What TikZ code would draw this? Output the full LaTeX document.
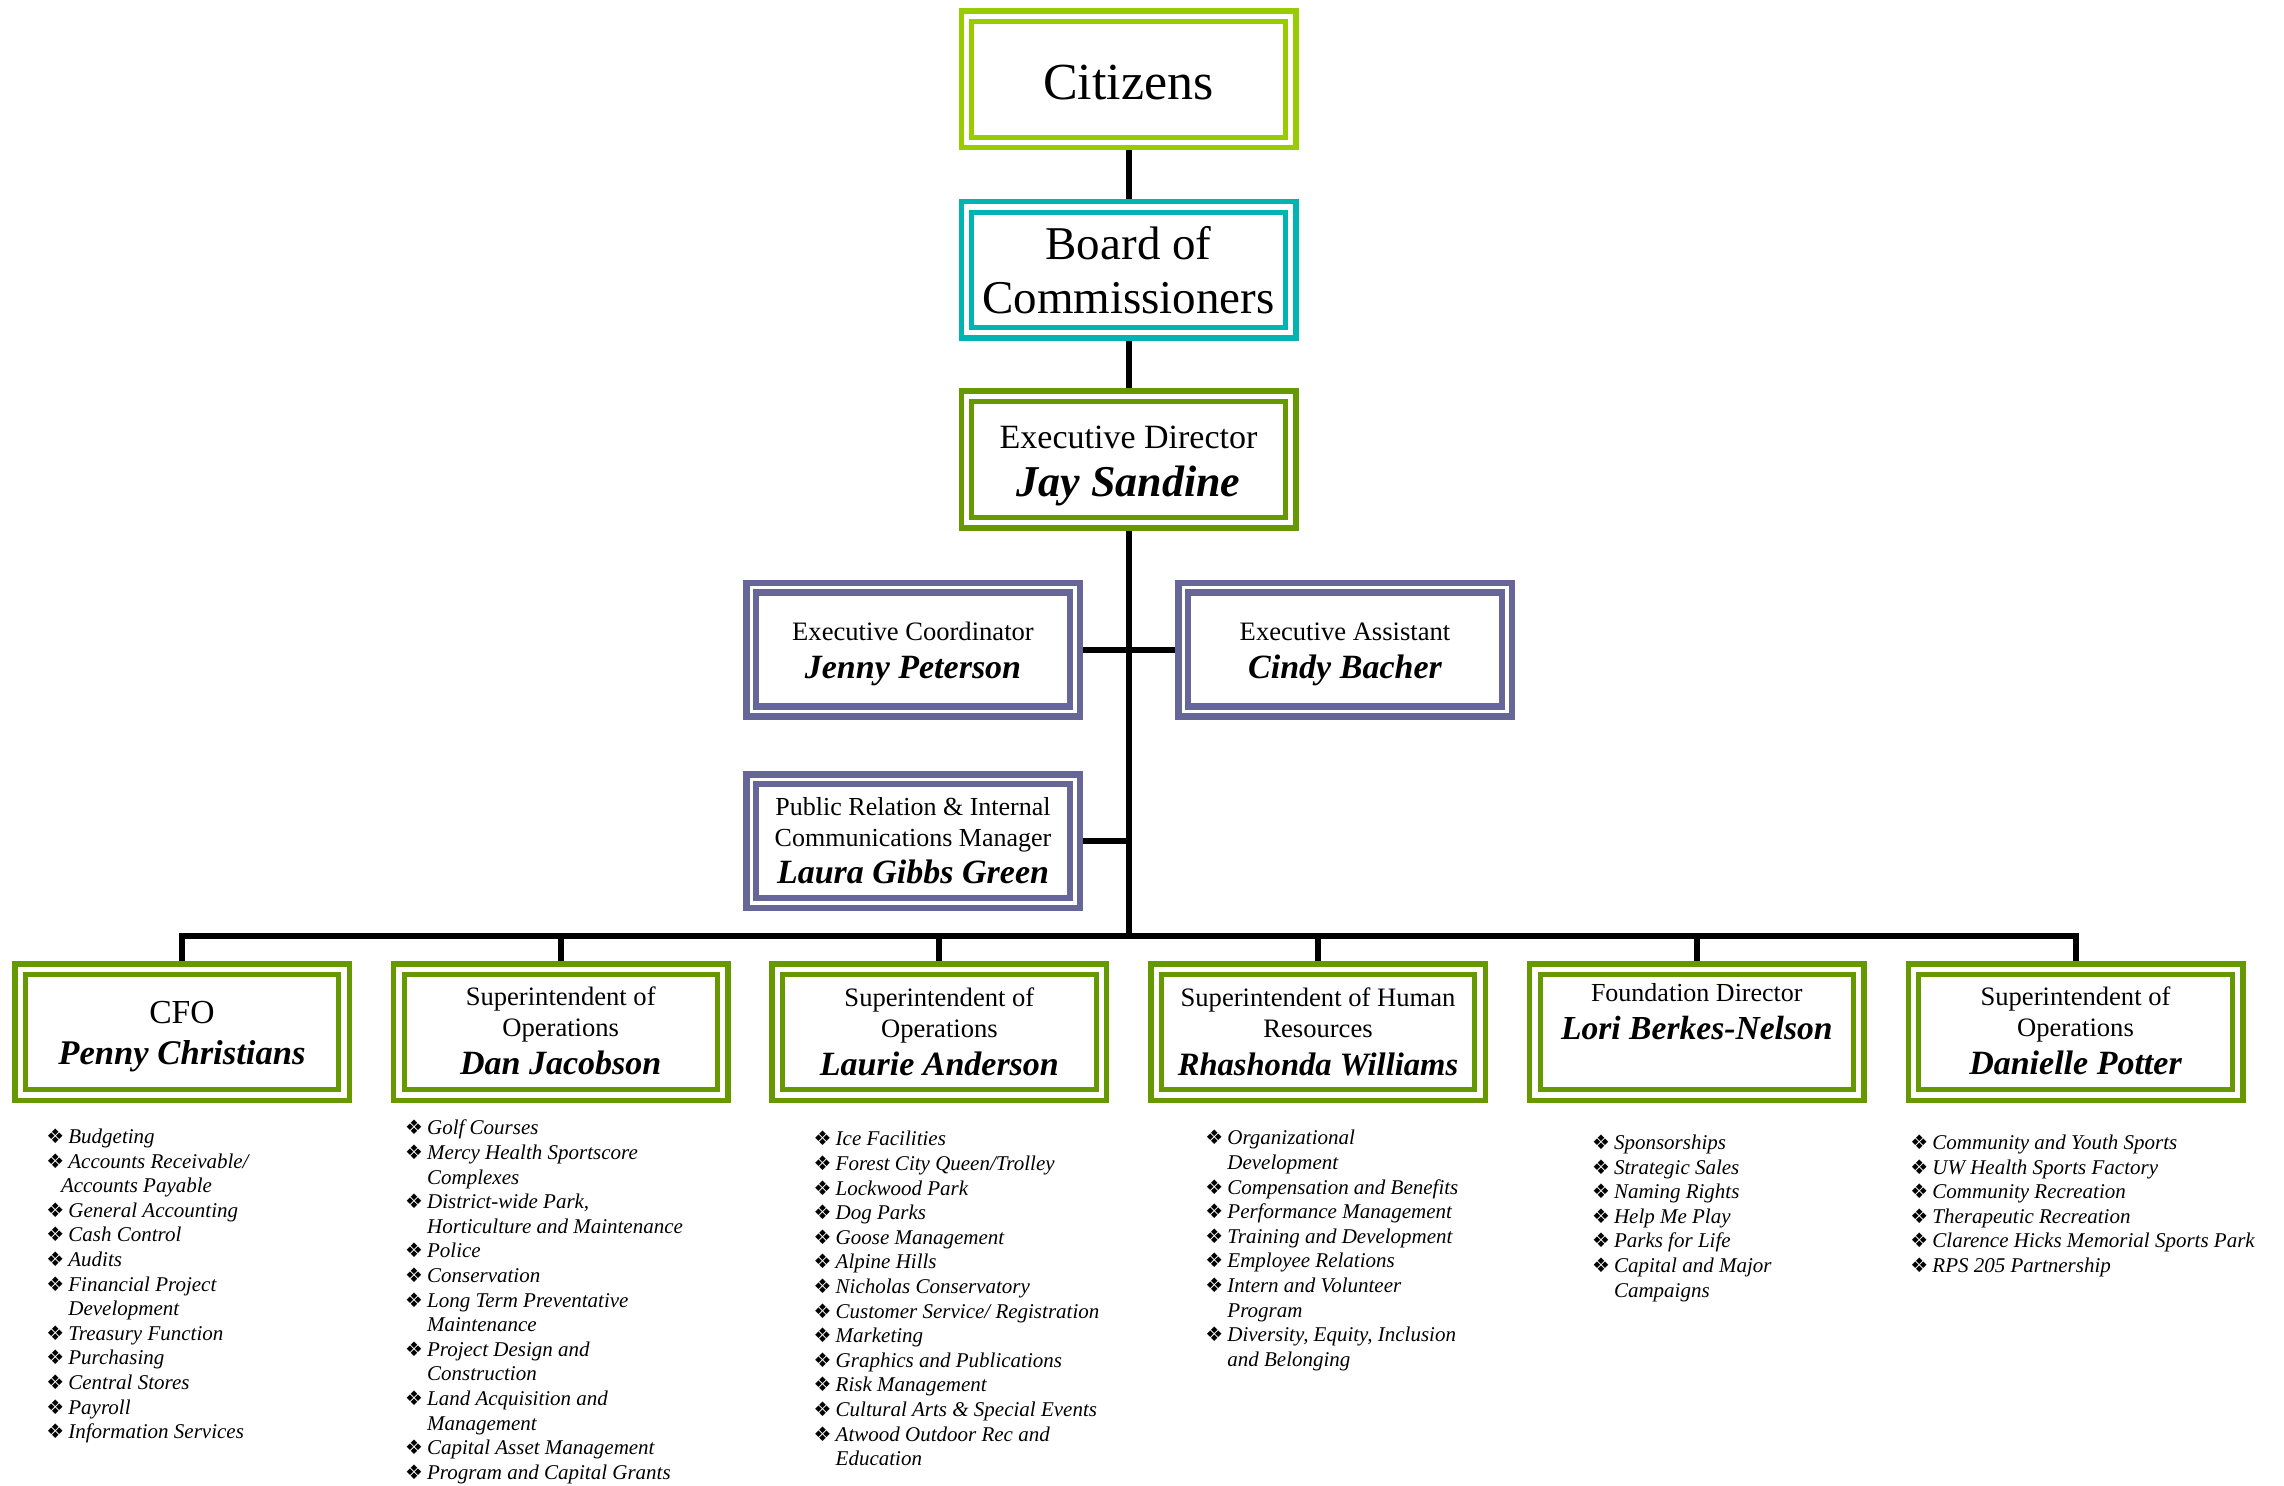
\documentclass[tikz,border=0pt]{standalone}
\usepackage{fontspec}
\setmainfont{Liberation Serif}
\newfontfamily\dvs{DejaVu Sans}
\definecolor{cLime}{RGB}{153,204,0}
\definecolor{cTeal}{RGB}{0,180,180}
\definecolor{cGreen}{RGB}{102,153,0}
\definecolor{cPurple}{RGB}{102,102,153}
\newcommand{\nm}[2][17]{{\fontsize{#1}{#1}\selectfont\bfseries\itshape #2}}
\newcommand{\lsb}{\makebox[11pt][l]{\dvs\fontsize{10}{10}\selectfont ❖}}
\newcommand{\lsi}{\hspace*{11pt}}
\newcommand{\tp}[1]{\rule{0pt}{#1}}
\newcommand{\bt}[1]{\rule[-#1]{0pt}{#1}}
\tikzset{
  dbl/.style n args={4}{draw=#1, line width=#2, inner sep=0pt, align=center,
    path picture={\draw[draw=#1, line width=#4]
      ([shift={(#3,-#3)}]path picture bounding box.north west) rectangle
      ([shift={(-#3,#3)}]path picture bounding box.south east);}},
  gbox/.style={dbl={cGreen}{2.75pt}{5.28pt}{2.5pt}, minimum width=167.25pt, minimum height=68.25pt},
  lbox/.style={dbl={cLime}{2.75pt}{5.28pt}{2.5pt}, minimum width=167.25pt, minimum height=68.25pt},
  tbox/.style={dbl={cTeal}{2.75pt}{5.28pt}{2.5pt}, minimum width=167.25pt, minimum height=68.25pt},
  pbox/.style={dbl={cPurple}{3.25pt}{4.9pt}{3.25pt}, minimum width=166.75pt, minimum height=66.75pt},
  conn/.style={line width=3pt, draw=black, line join=miter},
  lst/.style={anchor=north west, inner sep=0pt, align=left, font=\fontsize{10.5}{12.3}\selectfont\itshape}
}
\begin{document}
\begin{tikzpicture}[x=0.5pt,y=-0.5pt]
\useasboundingbox[fill=white] (0,0) rectangle (2284,1486);
% top chain
\node[lbox, font=\fontsize{26}{30}\selectfont] (cit) at (1128.5,79.5) {\tp{23.5pt}Citizens\bt{3pt}};
\node[tbox, font=\fontsize{23.5}{27}\selectfont] (board) at (1128.5,270) {\tp{22pt}Board of\\Commissioners\bt{5pt}};
\node[gbox, font=\fontsize{17}{24.25}\selectfont] (exec) at (1128.5,459.5) {\tp{18.75pt}Executive Director\\\nm[22]{Jay Sandine}\bt{6pt}};
% staff
\node[pbox, font=\fontsize{13.3}{18.8}\selectfont] (ecoord) at (913,649.5) {\tp{15pt}Executive Coordinator\\\nm{Jenny Peterson}\bt{5pt}};
\node[pbox, font=\fontsize{13.3}{18.8}\selectfont] (easst) at (1345,649.5) {\tp{15pt}Executive Assistant\\\nm{Cindy Bacher}\bt{5pt}};
\node[pbox, font=\fontsize{13}{15.5}\selectfont] (pr) at (913,841) {\tp{13.15pt}Public Relation \& Internal\\Communications Manager\\[3.15pt]\nm{Laura Gibbs Green}\bt{5pt}};
% bottom row
\node[gbox, font=\fontsize{16.8}{20.5}\selectfont] (cfo) at (182,1032) {\tp{17.25pt}CFO\\\nm[17.3]{Penny Christians}\bt{5pt}};
\node[gbox, font=\fontsize{13.3}{15.5}\selectfont] (dan) at (560.7,1032) {\tp{13.35pt}Superintendent of\\Operations\\[3.5pt]\nm{Dan Jacobson}\bt{5pt}};
\node[gbox, font=\fontsize{13.3}{15.5}\selectfont] (laurie) at (939.4,1032) {\tp{14pt}Superintendent of\\Operations\\[3.5pt]\nm{Laurie Anderson}\bt{5pt}};
\node[gbox, font=\fontsize{13.3}{15.5}\selectfont] (rha) at (1318,1032) {\tp{14pt}Superintendent of Human\\Resources\\[3.5pt]\nm[16.3]{Rhashonda Williams}\bt{5pt}};
\node[gbox, font=\fontsize{13}{18.8}\selectfont] (lori) at (1696.8,1032) {\tp{10pt}Foundation Director\\\nm[16.8]{Lori Berkes-Nelson}\bt{21.5pt}};
\node[gbox, font=\fontsize{13.3}{15.5}\selectfont] (dani) at (2075.5,1032) {\tp{12.5pt}Superintendent of\\Operations\\[3.5pt]\nm{Danielle Potter}\bt{5pt}};
% connectors
\coordinate (bus) at (1128.5,936);
\draw[conn] (cit) -- (board);
\draw[conn] (board) -- (exec);
\draw[conn] (exec.south) -- (bus);
\draw[conn] (ecoord) -- (easst);
\draw[conn] (pr.east) -- (pr.east -| bus);
\foreach \b in {cfo,dan,laurie,rha,lori,dani}{\draw[conn] (bus) -| (\b.north);}
% lists
\node[lst] (cfol) at (46,1123) {\rule{0pt}{10pt}\lsb Budgeting\\
\lsb Accounts Receivable/\\
\hspace*{7.3pt}Accounts Payable\\
\lsb General Accounting\\
\lsb Cash Control\\
\lsb Audits\\
\lsb Financial Project\\
\lsi Development\\
\lsb Treasury Function\\
\lsb Purchasing\\
\lsb Central Stores\\
\lsb Payroll\\
\lsb Information Services};
\node[lst] (danl) at (404.7,1114.5) {\rule{0pt}{10pt}\lsb Golf Courses\\
\lsb Mercy Health Sportscore\\
\lsi Complexes\\
\lsb District-wide Park,\\
\lsi Horticulture and Maintenance\\
\lsb Police\\
\lsb Conservation\\
\lsb Long Term Preventative\\
\lsi Maintenance\\
\lsb Project Design and\\
\lsi Construction\\
\lsb Land Acquisition and\\
\lsi Management\\
\lsb Capital Asset Management\\
\lsb Program and Capital Grants};
\node[lst] (lauriel) at (813.3,1125.5) {\rule{0pt}{10pt}\lsb Ice Facilities\\
\lsb Forest City Queen/Trolley\\
\lsb Lockwood Park\\
\lsb Dog Parks\\
\lsb Goose Management\\
\lsb Alpine Hills\\
\lsb Nicholas Conservatory\\
\lsb Customer Service/ Registration\\
\lsb Marketing\\
\lsb Graphics and Publications\\
\lsb Risk Management\\
\lsb Cultural Arts \& Special Events\\
\lsb Atwood Outdoor Rec and\\
\lsi Education};
\node[lst] (rhal) at (1205,1124.5) {\rule{0pt}{10pt}\lsb Organizational\\
\lsi Development\\
\lsb Compensation and Benefits\\
\lsb Performance Management\\
\lsb Training and Development\\
\lsb Employee Relations\\
\lsb Intern and Volunteer\\
\lsi Program\\
\lsb Diversity, Equity, Inclusion\\
\lsi and Belonging};
\node[lst] (loril) at (1591.6,1129) {\rule{0pt}{10pt}\lsb Sponsorships\\
\lsb Strategic Sales\\
\lsb Naming Rights\\
\lsb Help Me Play\\
\lsb Parks for Life\\
\lsb Capital and Major\\
\lsi Campaigns};
\node[lst] (danil) at (1910,1129) {\rule{0pt}{10pt}\lsb Community and Youth Sports\\
\lsb UW Health Sports Factory\\
\lsb Community Recreation\\
\lsb Therapeutic Recreation\\
\lsb Clarence Hicks Memorial Sports Park\\
\lsb RPS 205 Partnership};
\end{tikzpicture}
\end{document}
